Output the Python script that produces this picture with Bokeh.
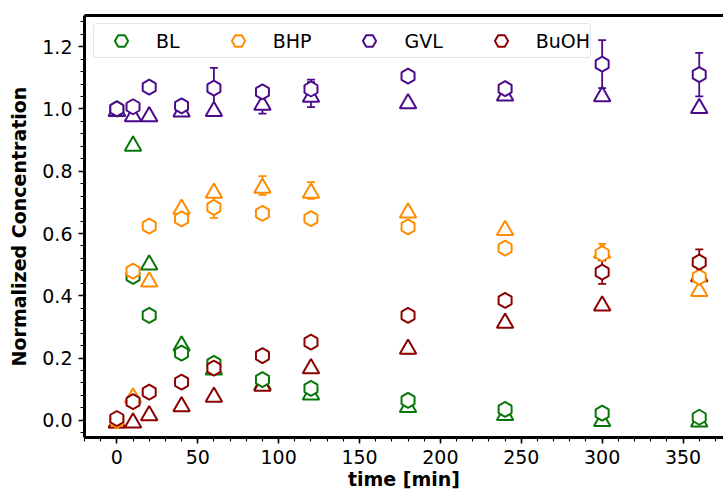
import numpy as np
from bokeh.plotting import figure
from bokeh.models import (ColumnDataSource, Whisker, TeeHead, Legend, LegendItem,
                          LinearAxis, SingleIntervalTicker, FixedTicker,
                          NumeralTickFormatter, Range1d)
from bokeh.transform import dodge
from bokeh.embed import file_html
from bokeh.resources import INLINE

# ---------------- data ----------------
time_min = [0, 10, 20, 40, 60, 90, 120, 180, 240, 300, 360]
species = ["BL", "BHP", "GVL", "BuOH"]
colors = ["#077607", "#ff8c00", "#4b0a8a", "#8b0000"]

# hexagon series (shown in legend)
bl_hex = [1.0, 0.462, 0.337, 0.216, 0.183, 0.131, 0.103, 0.064, 0.035, 0.023, 0.010]
bhp_hex = [0.0, 0.479, 0.624, 0.647, 0.684, 0.665, 0.648, 0.621, 0.553, 0.535, 0.460]
gvl_hex = [1.0, 1.007, 1.070, 1.010, 1.067, 1.055, 1.064, 1.105, 1.065, 1.144, 1.110]
buoh_hex = [0.006, 0.060, 0.091, 0.123, 0.168, 0.208, 0.251, 0.337, 0.385, 0.476, 0.508]

# triangle series
bl_tri = [1.0, 0.889, 0.507, 0.247, 0.170, 0.122, 0.090, 0.050, 0.024, 0.005, 0.003]
bhp_tri = [0.0, 0.080, 0.453, 0.686, 0.738, 0.754, 0.738, 0.674, 0.618, 0.545, 0.422]
gvl_tri = [1.0, 0.983, 0.983, 0.999, 1.000, 1.020, 1.046, 1.025, 1.050, 1.048, 1.010]
buoh_tri = [0.0, 0.000, 0.023, 0.052, 0.083, 0.118, 0.174, 0.237, 0.320, 0.376, 0.470]

# error bars (half widths)
bl_hex_err = [0, 0, 0, 0, 0, 0, 0, 0, 0, 0, 0]
bhp_hex_err = [0, 0, 0, 0, 0.034, 0, 0, 0, 0, 0, 0]
gvl_hex_err = [0, 0, 0, 0, 0.065, 0, 0.030, 0, 0, 0.077, 0.070]
buoh_hex_err = [0, 0, 0, 0, 0, 0, 0, 0, 0, 0.038, 0.041]

bl_tri_err = [0, 0, 0, 0, 0, 0, 0, 0, 0, 0, 0]
bhp_tri_err = [0, 0, 0, 0, 0, 0.030, 0.027, 0, 0, 0.022, 0]
gvl_tri_err = [0, 0, 0, 0, 0, 0.035, 0.040, 0, 0, 0, 0]
buoh_tri_err = [0, 0, 0, 0, 0, 0, 0, 0, 0, 0, 0]

x_ticks_interval = 50
y_ticks_interval = 0.2

hex_sets = [bl_hex, bhp_hex, gvl_hex, buoh_hex]
tri_sets = [bl_tri, bhp_tri, gvl_tri, buoh_tri]
hex_errs = [bl_hex_err, bhp_hex_err, gvl_hex_err, buoh_hex_err]
tri_errs = [bl_tri_err, bhp_tri_err, gvl_tri_err, buoh_tri_err]

FONT = "DejaVu Sans"

p = figure(width=723, height=492, output_backend="svg", toolbar_location=None,
           x_range=Range1d(-20, 375), y_range=Range1d(-0.055, 1.30),
           min_border_left=84, min_border_right=0, min_border_top=15,
           min_border_bottom=55, background_fill_color="white",
           border_fill_color="white")
p.outline_line_color = None
p.xgrid.visible = False
p.ygrid.visible = False

# axes
for ax in (p.xaxis[0], p.yaxis[0]):
    ax.axis_line_width = 3
    ax.axis_line_color = "black"
    ax.major_tick_line_width = 1.6
    ax.major_tick_out = 6
    ax.major_tick_in = 0
    ax.minor_tick_line_width = 1.1
    ax.minor_tick_out = 4
    ax.minor_tick_in = 0
    ax.major_label_text_font = FONT
    ax.major_label_text_font_size = "19px"
    ax.major_label_text_color = "black"
    ax.axis_label_text_font = FONT
    ax.axis_label_text_font_size = "19px"
    ax.axis_label_text_font_style = "bold"
    ax.axis_label_text_color = "black"

p.xaxis.ticker = SingleIntervalTicker(interval=x_ticks_interval, num_minor_ticks=5)
p.yaxis.ticker = SingleIntervalTicker(interval=y_ticks_interval, num_minor_ticks=5)
p.yaxis.formatter = NumeralTickFormatter(format="0.0")
p.xaxis.axis_label = "time [min]"
p.yaxis.axis_label = "Normalized Concentration"
p.xaxis.major_label_standoff = 6
p.xaxis.axis_label_standoff = 1
p.yaxis.major_label_standoff = 6
p.yaxis.axis_label_standoff = 9

top_axis = LinearAxis(ticker=FixedTicker(ticks=[]), axis_line_width=3,
                      axis_line_color="black", major_tick_out=0, major_tick_in=0,
                      minor_tick_out=0, minor_tick_in=0, major_label_standoff=0,
                      major_tick_line_color=None, minor_tick_line_color=None)
p.add_layout(top_axis, "above")


def add_errors(ys, errs, color):
    xs, up, lo = [], [], []
    for t, y, e in zip(time_min, ys, errs):
        if e > 0:
            xs.append(t)
            up.append(y + e)
            lo.append(y - e)
    if not xs:
        return
    src = ColumnDataSource(dict(base=xs, upper=up, lower=lo))
    w = Whisker(source=src, base="base", upper="upper", lower="lower",
                dimension="height", line_color=color, line_width=1.8,
                level="underlay",
                upper_head=TeeHead(size=8, line_color=color, line_width=1.8),
                lower_head=TeeHead(size=8, line_color=color, line_width=1.8))
    p.add_layout(w)


TRI_SIZE = 16.5
HEX_SIZE = 15
# Bokeh centres triangles on their centroid; shift so the bounding box is centred
tri_shift = -(TRI_SIZE * np.sqrt(3) / 2 / 6) / (422 / 1.355)

for ys, errs, c in zip(tri_sets, tri_errs, colors):
    add_errors(ys, errs, c)
for ys, c in zip(tri_sets, colors):
    src = ColumnDataSource(dict(t=time_min, y=ys))
    p.scatter(x="t", y=dodge("y", tri_shift, range=p.y_range), source=src,
              marker="triangle", size=TRI_SIZE, line_color=c, line_width=2,
              fill_color="white")

hex_renderers = []
for ys, errs, c in zip(hex_sets, hex_errs, colors):
    add_errors(ys, errs, c)
for ys, c in zip(hex_sets, colors):
    src = ColumnDataSource(dict(t=time_min, y=ys))
    r = p.scatter(x="t", y="y", source=src, marker="hex", angle=np.pi / 2,
                  size=HEX_SIZE, line_color=c, line_width=2, fill_color="white")
    hex_renderers.append(r)

legend = Legend(items=[LegendItem(label=n, renderers=[r]) for n, r in zip(species, hex_renderers)],
                orientation="horizontal", location=(9, 379),
                padding=0, margin=0, spacing=31, glyph_width=54, glyph_height=33,
                label_standoff=8, label_text_font=FONT, label_text_font_size="19px",
                label_text_color="black", border_line_color="#cccccc",
                border_line_width=1.5, background_fill_color="white",
                background_fill_alpha=0.85)
if "border_radius" in Legend.properties():
    legend.border_radius = 4
p.add_layout(legend)

open("out.html", "w").write(file_html(p, INLINE))
